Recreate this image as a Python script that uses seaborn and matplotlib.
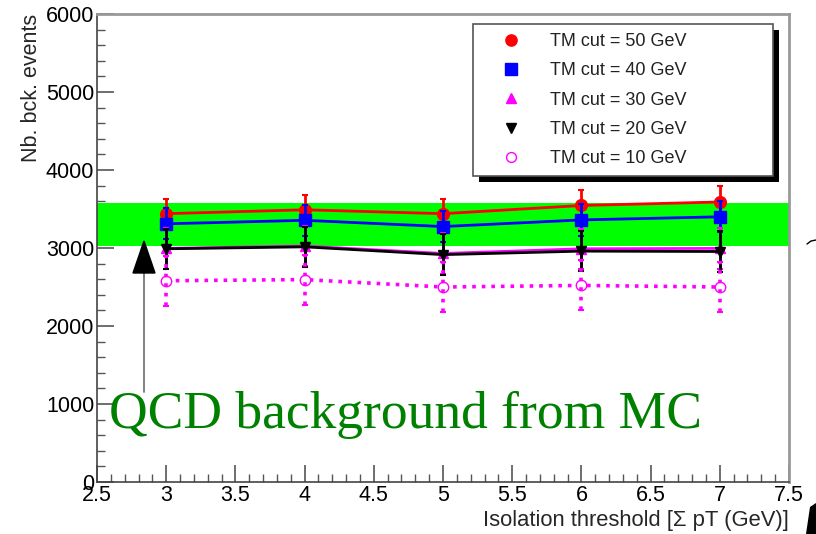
import numpy as np
import pandas as pd
import matplotlib
matplotlib.use("Agg")
import matplotlib.pyplot as plt
from matplotlib.lines import Line2D
from matplotlib.patches import Polygon, Rectangle
from matplotlib.ticker import MultipleLocator
import seaborn as sns

# ---- data ----
thresholds = [3, 4, 5, 6, 7]
cut50 = [3440, 3490, 3440, 3545, 3590]
cut40 = [3310, 3355, 3275, 3360, 3400]
cut30 = [2995, 3025, 2930, 2990, 2995]
cut20 = [2990, 3015, 2915, 2960, 2955]
cut10 = [2580, 2595, 2500, 2520, 2500]
err50 = [190, 190, 190, 200, 210]
err40 = [200, 200, 200, 200, 200]
err30 = [260, 260, 260, 260, 260]
err20 = [260, 260, 260, 260, 260]
err10 = [320, 320, 320, 320, 320]
labels = ["TM cut = 50 GeV", "TM cut = 40 GeV", "TM cut = 30 GeV",
          "TM cut = 20 GeV", "TM cut = 10 GeV"]
band_low, band_high = 3030, 3580

sns.set_theme(style="white")
plt.rcParams["font.family"] = ["Liberation Sans", "DejaVu Sans"]

W, H = 816, 534
fig = plt.figure(figsize=(W / 100, H / 100), dpi=100)
ax = fig.add_axes([97 / W, 1 - 482 / H, 692 / W, 468 / H])

ax.axhspan(band_low, band_high, color="#00ff00", zorder=1, lw=0)

series = [
    (cut50, err50, "#ff0000", "o", "-", 8.5, "#ff0000", "#ff0000"),
    (cut40, err40, "#0000ff", "s", "-", 8.5, "#0000ff", "#0000ff"),
    (cut30, err30, "#ff00ff", "^", "-", 7.5, "#ff00ff", "#ff00ff"),
    (cut20, err20, "#000000", "v", "-", 7.5, "#000000", "#000000"),
    (cut10, err10, "#ff00ff", "o", ":", 7.5, "white", "#ff00ff"),
]

handles = []
for i, (vals, errs, col, mk, ls, ms, mfc, mec) in enumerate(series):
    z = 3 + i
    df = pd.DataFrame({"x": thresholds, "y": vals})
    sns.lineplot(data=df, x="x", y="y", ax=ax, color=col, marker=mk,
                 linestyle=ls, linewidth=2.0 if ls == "-" else 2.6,
                 markersize=ms, markerfacecolor=mfc, markeredgecolor=mec,
                 markeredgewidth=1.0, zorder=z)
    eb = ax.errorbar(thresholds, vals, yerr=errs, fmt="none", ecolor=col,
                     elinewidth=2.0 if ls == "-" else 2.6,
                     capsize=2.5, capthick=1.5, zorder=z)
    if ls == ":":
        for lc in eb[2]:
            lc.set_linestyle(":")
    handles.append(Line2D([], [], color=col, marker=mk, linestyle="none",
                          markersize=ms * 0.95, markerfacecolor=mfc,
                          markeredgecolor=mec, markeredgewidth=1.0))

ax.set_xlim(2.5, 7.5)
ax.set_ylim(0, 6000)
ax.xaxis.set_major_locator(MultipleLocator(0.5))
ax.xaxis.set_minor_locator(MultipleLocator(0.1))
ax.yaxis.set_major_locator(MultipleLocator(1000))
ax.yaxis.set_minor_locator(MultipleLocator(200))
ax.set_xticks([2.5, 3, 3.5, 4, 4.5, 5, 5.5, 6, 6.5, 7, 7.5])
ax.set_xticklabels(["2.5", "3", "3.5", "4", "4.5", "5", "5.5", "6",
                    "6.5", "7", "7.5"])
ax.tick_params(axis="both", which="major", direction="in", length=12,
               width=1.2, color="#555555", labelsize=15.5, labelcolor="black",
               pad=2)
ax.tick_params(axis="both", which="minor", direction="in", length=6,
               width=1.0, color="#555555")
ax.tick_params(axis="x", which="both", bottom=True, top=False)
ax.tick_params(axis="y", which="both", left=True, right=False)
ax.tick_params(axis="x", which="major", pad=2)

for s in ["left", "bottom"]:
    ax.spines[s].set_color("#444444")
    ax.spines[s].set_linewidth(1.2)
for s in ["top", "right"]:
    ax.spines[s].set_color("#999999")
    ax.spines[s].set_linewidth(2.0)

ax.set_xlabel("Isolation threshold [Σ pT (GeV)]", fontsize=15.8, loc="right",
              labelpad=3)
ax.set_ylabel("Nb. bck. events", fontsize=15.5, loc="top", labelpad=3)

# legend
leg = fig.legend(handles, labels, loc="upper left",
                 bbox_to_anchor=(473 / W, 1 - 24 / H, 300 / W, 0.0),
                 mode="expand", frameon=True, fontsize=13,
                 handlelength=3.2, handletextpad=0.55, borderpad=0.5,
                 labelspacing=0.68, borderaxespad=0, fancybox=False,
                 shadow=False, facecolor="white", edgecolor="#555555",
                 framealpha=1.0)
leg.get_frame().set_linewidth(1.2)
leg.set_zorder(20)
for t in leg.get_texts():
    t.set_color("#222222")
fig.canvas.draw()
bb = leg.get_window_extent()
shadow = Rectangle((bb.x0 + 6, bb.y0 - 6), bb.width, bb.height,
                   transform=None, facecolor="black", edgecolor="none",
                   zorder=19)
fig.patches.append(shadow)
shadow.set_figure(fig)

# annotation arrow
fx = lambda px: px / W
fy = lambda py: 1 - py / H
fig.add_artist(Line2D([fx(144), fx(144)], [fy(272), fy(392)],
                      transform=fig.transFigure, color="#777777", lw=1.3,
                      zorder=25))
fig.add_artist(Polygon([(fx(133), fy(273)), (fx(155), fy(273)),
                        (fx(144), fy(241))], closed=True,
                       transform=fig.transFigure, facecolor="black",
                       edgecolor="black", zorder=26))

fig.text(fx(109), fy(428), "QCD background from MC", fontsize=38.5,
         family=["Liberation Serif", "DejaVu Serif"], color="#008000",
         ha="left", va="baseline", zorder=30)

# slide artifacts on right edge
fig.add_artist(Line2D([fx(807), fx(811), fx(816)], [fy(244), fy(241), fy(240)],
                      transform=fig.transFigure, color="black", lw=1.0))
fig.add_artist(Polygon([(fx(806), fy(534)), (fx(810), fy(507)),
                        (fx(816), fy(503)), (fx(816), fy(534))], closed=True,
                       transform=fig.transFigure, facecolor="black",
                       edgecolor="none"))

fig.savefig("out.png", dpi=100)
